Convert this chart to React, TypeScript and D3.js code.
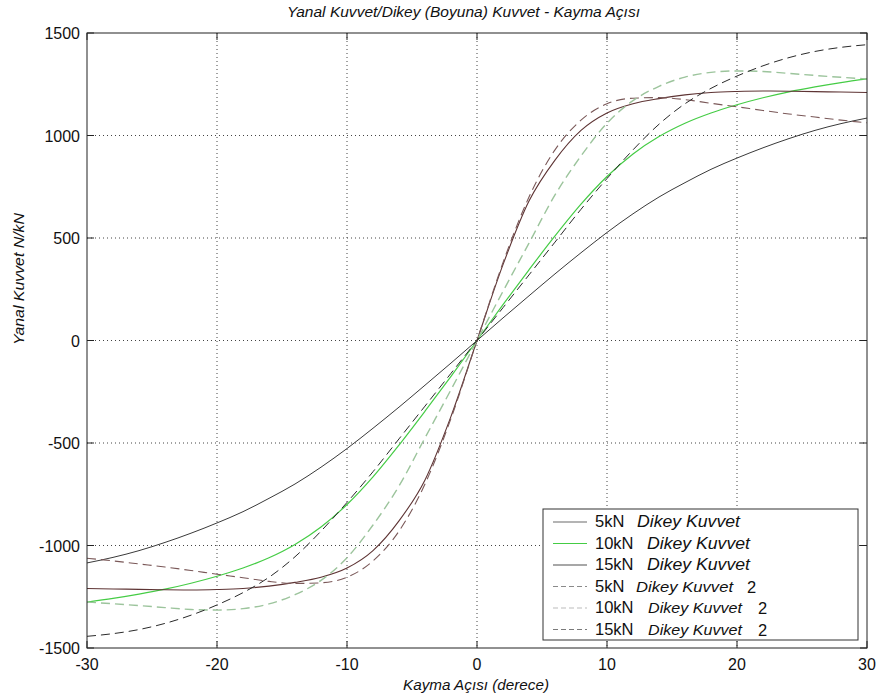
import React from "react";
import * as d3 from "d3";

const angles = [-30,-28,-26,-24,-22,-20,-18,-16,-14,-12,-10,-8,-6,-4,-2,0,2,4,6,8,10,12,14,16,18,20,22,24,26,28,30];

const kn5 = [-1085,-1058,-1025,-985,-940,-890,-835,-770,-700,-618,-527,-428,-325,-218,-110,0,110,218,325,428,527,618,700,770,835,890,940,985,1025,1058,1085];
const kn10 = [-1276,-1258,-1237,-1213,-1184,-1150,-1110,-1060,-995,-910,-800,-665,-510,-345,-175,0,175,345,510,665,800,910,995,1060,1110,1150,1184,1213,1237,1258,1276];
const kn15 = [-1210,-1212,-1214,-1216,-1217,-1215,-1210,-1198,-1180,-1155,-1110,-1025,-880,-680,-370,0,370,680,880,1025,1110,1155,1180,1198,1210,1215,1217,1216,1214,1212,1210];
const kn5b = [-1062,-1075,-1090,-1105,-1122,-1140,-1157,-1175,-1185,-1182,-1155,-1075,-930,-700,-380,0,380,700,930,1075,1155,1182,1185,1175,1157,1140,1122,1105,1090,1075,1062];
const kn10b = [-1276,-1284,-1293,-1303,-1312,-1315,-1308,-1285,-1240,-1170,-1060,-900,-710,-475,-240,0,240,475,710,900,1060,1170,1240,1285,1308,1315,1312,1303,1293,1284,1276];
const kn15b = [-1443,-1430,-1410,-1380,-1340,-1290,-1230,-1155,-1055,-930,-790,-640,-480,-320,-160,0,160,320,480,640,790,930,1055,1155,1230,1290,1340,1380,1410,1430,1443];

const xTicks = [-30,-20,-10,0,10,20,30];
const yTicks = [-1500,-1000,-500,0,500,1000,1500];

const legendNames = ["5kN", "10kN", "15kN", "5kN", "10kN", "15kN"];
const legendSuffix = ["", "", "", "2", "2", "2"];

const titleText = "Yanal Kuvvet/Dikey (Boyuna) Kuvvet - Kayma Açısı";
const xLabel = "Kayma Açısı (derece)";
const yLabel = "Yanal Kuvvet N/kN";

const series = [
  { values: kn5, color: "#3a3a3a", dash: "", width: 1, legend: "#6a6a6a" },
  { values: kn10, color: "#45cc45", dash: "", width: 1.2, legend: "#44cc44" },
  { values: kn15, color: "#5e3434", dash: "", width: 1.1, legend: "#505050" },
  { values: kn5b, color: "#7a5858", dash: "9,5", width: 1.1, legend: "#8a8a8a" },
  { values: kn10b, color: "#9cc49c", dash: "9,5", width: 1.4, legend: "#bcbcbc" },
  { values: kn15b, color: "#2a2a2a", dash: "9,5", width: 1, legend: "#7a7a7a" },
];

const FONT = "'Liberation Sans', Arial, Helvetica, sans-serif";

export default function App() {
  const x = d3.scaleLinear().domain([-30, 30]).range([87, 867]);
  const y = d3.scaleLinear().domain([-1500, 1500]).range([648, 33]);
  const line = d3
    .line<number>()
    .x((_, i) => x(angles[i]))
    .y((d) => y(d))
    .curve(d3.curveMonotoneX);

  const [x0, x1] = x.range();
  const [y0, y1] = [y(-1500), y(1500)];
  const tickLen = 7;

  const legX = 543, legY = 509, legW = 315, legH = 131;
  const rowY = (i: number) => 527 + i * 21.5;

  return (
    <svg width={880} height={700} style={{ position: "absolute", left: 0, top: 0, background: "#fff" }}>
      <rect x={0} y={0} width={880} height={700} fill="#fff" />
      {xTicks.slice(1, -1).map((t) => (
        <line key={"gx" + t} x1={x(t)} x2={x(t)} y1={y1} y2={y0} stroke="#444" strokeWidth={1} strokeDasharray="1,3" />
      ))}
      {yTicks.slice(1, -1).map((t) => (
        <line key={"gy" + t} x1={x0} x2={x1} y1={y(t)} y2={y(t)} stroke="#444" strokeWidth={1} strokeDasharray="1,3" />
      ))}
      <g fill="none">
        {series.map((s, i) => (
          <path key={i} d={line(s.values) || ""} stroke={s.color} strokeWidth={s.width} strokeDasharray={s.dash || undefined} />
        ))}
      </g>
      <rect x={x0} y={y1} width={x1 - x0} height={y0 - y1} fill="none" stroke="#222" strokeWidth={1} />
      {xTicks.map((t) => (
        <g key={"tx" + t}>
          <line x1={x(t)} x2={x(t)} y1={y0} y2={y0 - tickLen} stroke="#222" />
          <line x1={x(t)} x2={x(t)} y1={y1} y2={y1 + tickLen} stroke="#222" />
          <text x={x(t)} y={670} textAnchor="middle" fontFamily={FONT} fontSize={16} fill="#111">{t}</text>
        </g>
      ))}
      {yTicks.map((t) => (
        <g key={"ty" + t}>
          <line x1={x0} x2={x0 + tickLen} y1={y(t)} y2={y(t)} stroke="#222" />
          <line x1={x1} x2={x1 - tickLen} y1={y(t)} y2={y(t)} stroke="#222" />
          <text x={80} y={y(t) + 6} textAnchor="end" fontFamily={FONT} fontSize={16} fill="#111">{t}</text>
        </g>
      ))}
      <text x={463.5} y={17} textAnchor="middle" fontFamily={FONT} fontStyle="italic" fontSize={14} textLength={353} lengthAdjust="spacingAndGlyphs" fill="#111">{titleText}</text>
      <text x={476} y={690} textAnchor="middle" fontFamily={FONT} fontStyle="italic" fontSize={14} textLength={146} lengthAdjust="spacingAndGlyphs" fill="#111">{xLabel}</text>
      <text transform={`translate(24,279) rotate(-90)`} textAnchor="middle" fontFamily={FONT} fontStyle="italic" fontSize={14} textLength={132} lengthAdjust="spacingAndGlyphs" fill="#111">{yLabel}</text>
      <rect x={legX} y={legY} width={legW} height={legH} fill="#fff" stroke="#333" strokeWidth={1} />
      {series.map((s, i) => {
        const ry = rowY(i);
        const wide = legendNames[i].length > 3;
        const dx = i < 3 ? (wide ? 647 : 637) : (wide ? 648 : 636);
        const dl = i < 3 ? 103 : (wide ? 94 : 97);
        return (
          <g key={"lg" + i}>
            <line x1={553} x2={587} y1={ry - 5} y2={ry - 5} stroke={s.legend} strokeWidth={1.2} strokeDasharray={s.dash ? "5,3" : undefined} />
            <text x={595} y={ry} fontFamily={FONT} fontSize={16.5} fill="#111">{legendNames[i]}</text>
            <text x={dx} y={ry} fontFamily={FONT} fontStyle="italic" fontSize={i < 3 ? 16 : 15.5} textLength={dl} lengthAdjust="spacingAndGlyphs" fill="#111">Dikey Kuvvet</text>
            {legendSuffix[i] && (
              <text x={i === 3 ? 747 : 758} y={ry + 1} fontFamily={FONT} fontSize={16.5} fill="#111">{legendSuffix[i]}</text>
            )}
          </g>
        );
      })}
    </svg>
  );
}
